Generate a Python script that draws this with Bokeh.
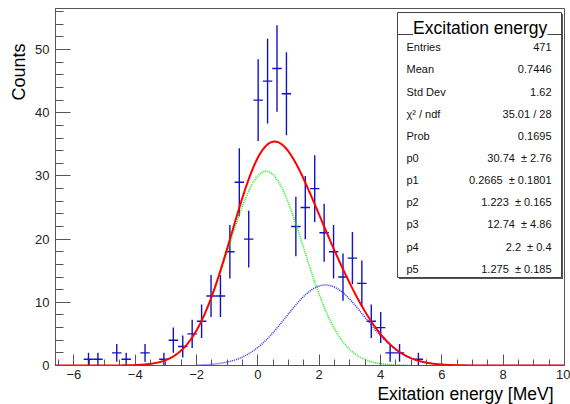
import numpy as np
from bokeh.plotting import figure
from bokeh.models import Range1d, Label, Title, SingleIntervalTicker, CustomJSTickFormatter
from bokeh.embed import file_html
from bokeh.resources import INLINE

# ---------------- data ----------------
x_low = -6.6
x_high = 10.0
y_top = 56.5
bin_counts = [0, 0, 0, 1, 1, 0, 2, 1, 0, 2, 0, 1, 4, 3, 5, 7, 11, 11, 18, 29,
              20, 42, 45, 47, 43, 22, 25, 28, 21, 18, 14, 17, 13, 7, 6, 2, 2, 0, 1, 0,
              0, 0, 0, 0, 0, 0, 0, 0, 0, 0, 0, 0, 0, 0]
fit_params = [30.74, 0.2665, 1.223, 12.74, 2.2, 1.275]
gaus1_range = [-2.0, 5.0]
gaus2_range = [-2.0, 10.0]
stat_title = "Excitation energy"
stat_labels = ["Entries", "Mean", "Std Dev", "\u03c7\u00b2 / ndf", "Prob",
               "p0", "p1", "p2", "p3", "p4", "p5"]
stat_values = ["471", "0.7446", "1.62", "35.01 / 28", "0.1695",
               "30.74 \u00a0\u00b1 2.76", "0.2665 \u00a0\u00b1 0.1801", "1.223 \u00a0\u00b1 0.165",
               "12.74 \u00a0\u00b1 4.86", "2.2 \u00a0\u00b1 0.4", "1.275 \u00a0\u00b1 0.185"]
x_title = "Exitation energy [MeV]"
y_title = "Counts"

FONT = "Liberation Sans"
W, H = 570, 404
BL, BR, BT, BB = 55, 6, 8, 39

n = len(bin_counts)
bw = (x_high - x_low) / n
centers = x_low + bw * (np.arange(n) + 0.5)
cnt = np.array(bin_counts, dtype=float)
m = cnt > 0
xc, yc = centers[m], cnt[m]
err = np.sqrt(yc)


def gaus(x, a, mu, s):
    return a * np.exp(-0.5 * ((x - mu) / s) ** 2)


p = figure(width=W, height=H, x_range=Range1d(x_low, x_high), y_range=Range1d(0, y_top),
           output_backend="svg", toolbar_location=None,
           min_border_left=BL, min_border_right=BR, min_border_top=BT, min_border_bottom=BB)
p.background_fill_color = "white"
p.border_fill_color = "white"
p.outline_line_color = "#555555"
p.outline_line_width = 1
p.grid.visible = False

p.xaxis.ticker = SingleIntervalTicker(interval=2, num_minor_ticks=4)
p.yaxis.ticker = SingleIntervalTicker(interval=10, num_minor_ticks=5)
fmt = CustomJSTickFormatter(code="return tick < 0 ? '\u2212' + Math.abs(tick) : '' + tick;")
p.xaxis.formatter = fmt
for ax in (p.xaxis, p.yaxis):
    ax.axis_line_color = "#555555"
    ax.major_tick_line_color = "#555555"
    ax.minor_tick_line_color = "#555555"
    ax.major_tick_out = 0
    ax.minor_tick_out = 0
    ax.major_label_text_font = FONT
    ax.major_label_text_font_size = "13px"
    ax.major_label_text_color = "#222222"
p.xaxis.major_tick_in = 11
p.xaxis.minor_tick_in = 6
p.yaxis.major_tick_in = 15
p.yaxis.minor_tick_in = 8
p.xaxis.major_label_standoff = 4
p.yaxis.major_label_standoff = 6

# axis titles, ROOT style at the far end of each axis
p.add_layout(Title(text=x_title, align="right", offset=11, standoff=0,
                   text_font=FONT, text_font_size="17.5px", text_font_style="normal",
                   text_color="black"), "below")
p.add_layout(Title(text=y_title, align="right", offset=35, standoff=8,
                   text_font=FONT, text_font_size="18px", text_font_style="normal",
                   text_color="black"), "left")

# data points with errors
p.segment(x0=xc, y0=yc - err, x1=xc, y1=yc + err, line_color="#1212c0", line_width=1.4)
p.segment(x0=xc - bw / 2, y0=yc, x1=xc + bw / 2, y1=yc, line_color="#1212c0", line_width=1.4)

# fit components
x1 = np.linspace(gaus1_range[0], gaus1_range[1], 400)
p.line(x1, gaus(x1, *fit_params[0:3]), line_color="#22ee22", line_width=1.6, line_dash="1 1")
x2 = np.linspace(gaus2_range[0], gaus2_range[1], 600)
p.line(x2, gaus(x2, *fit_params[3:6]), line_color="#3333ff", line_width=1.6, line_dash="1 1")
xt = np.linspace(x_low, x_high, 800)
p.line(xt, gaus(xt, *fit_params[0:3]) + gaus(xt, *fit_params[3:6]), line_color="#ff0000", line_width=2)


# page-pixel -> data helpers for the stats box layout
def X(px):
    return x_low + (px - BL) / (W - BL - BR) * (x_high - x_low)


def Y(py):
    return y_top * ((H - BB) - py) / (H - BT - BB)


# stats box
p.quad(left=X(398.5), right=X(562.5), top=Y(13.5), bottom=Y(278.5), fill_color="#555555", line_color=None)
p.quad(left=X(397), right=X(561), top=Y(12), bottom=Y(277), fill_color="white", line_color="#444444", line_width=1)
p.line([X(397), X(561)], [Y(34), Y(34)], line_color="#444444", line_width=1)
p.add_layout(Label(x=X(479.7), y=Y(27), text=stat_title, text_align="center", text_baseline="alphabetic",
                   text_font=FONT, text_font_size="17.5px", text_color="black",
                   background_fill_color="white"))
for i, (lab, val) in enumerate(zip(stat_labels, stat_values)):
    yb = Y(46.7 + 22.16 * i)
    p.add_layout(Label(x=X(406), y=yb, text=lab, text_align="left", text_baseline="alphabetic",
                       text_font=FONT, text_font_size="11px", text_color="#111111"))
    p.add_layout(Label(x=X(551), y=yb, text=val, text_align="right", text_baseline="alphabetic",
                       text_font=FONT, text_font_size="11px", text_color="#111111"))

open("out.html", "w").write(file_html(p, INLINE))
